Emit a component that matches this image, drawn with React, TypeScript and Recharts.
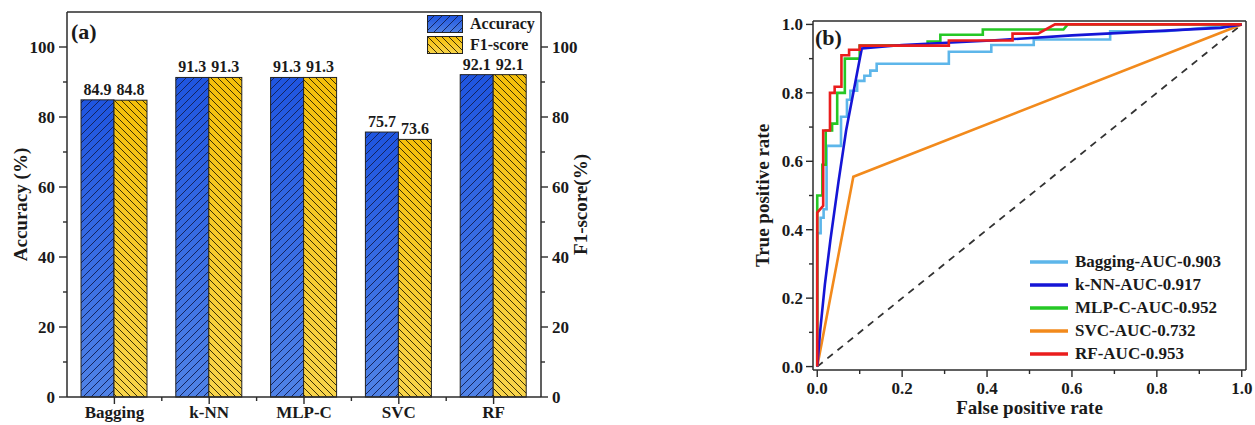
import { Bar, BarChart, LabelList, Legend, Line, LineChart, ReferenceLine, XAxis, YAxis } from 'recharts';

const FONT = '"Liberation Serif", "Times New Roman", serif';
const INK = '#1a1a1a';
const AXIS = '#2b2b2b';

// panel (a) data
const models = ['Bagging', 'k-NN', 'MLP-C', 'SVC', 'RF'];
const accuracy = [84.9, 91.3, 91.3, 75.7, 92.1];
const f1Score = [84.8, 91.3, 91.3, 73.6, 92.1];
const percentTicks = [0, 10, 20, 30, 40, 50, 60, 70, 80, 90, 100];

// panel (b) data, [false positive rate, true positive rate]
const baggingRoc = [
  [0, 0], [0, 0.39], [0.008, 0.39], [0.008, 0.435], [0.015, 0.435], [0.015, 0.46], [0.022, 0.46],
  [0.022, 0.645], [0.056, 0.645], [0.056, 0.73], [0.07, 0.73], [0.07, 0.78], [0.078, 0.78],
  [0.078, 0.806], [0.094, 0.806], [0.094, 0.835], [0.111, 0.835], [0.111, 0.85], [0.125, 0.85],
  [0.125, 0.865], [0.14, 0.865], [0.14, 0.885], [0.31, 0.885], [0.31, 0.92], [0.41, 0.92],
  [0.41, 0.94], [0.51, 0.94], [0.51, 0.956], [0.69, 0.956], [0.69, 0.98], [0.82, 0.98], [1, 1],
];
const knnRoc = [
  [0, 0], [0.007, 0.106], [0.018, 0.24], [0.031, 0.37], [0.05, 0.54], [0.068, 0.69], [0.085, 0.8],
  [0.101, 0.905], [0.105, 0.93], [0.2, 0.94], [0.41, 0.953], [0.6, 0.968], [0.82, 0.982], [0.95, 0.99], [1, 1],
];
const mlpRoc = [
  [0, 0], [0, 0.5], [0.012, 0.5], [0.012, 0.59], [0.02, 0.59], [0.02, 0.69], [0.035, 0.69], [0.035, 0.71],
  [0.047, 0.71], [0.047, 0.8], [0.065, 0.8], [0.065, 0.9], [0.1, 0.9], [0.1, 0.938], [0.26, 0.94],
  [0.26, 0.95], [0.29, 0.95], [0.29, 0.97], [0.39, 0.97], [0.39, 0.985], [0.58, 0.985], [0.59, 1], [1, 1],
];
const svcRoc = [[0, 0], [0.085, 0.555], [1, 1]];
const rfRoc = [
  [0, 0], [0, 0.45], [0.014, 0.47], [0.014, 0.69], [0.03, 0.69], [0.03, 0.8], [0.041, 0.8], [0.041, 0.818],
  [0.057, 0.818], [0.057, 0.91], [0.075, 0.91], [0.075, 0.926], [0.1, 0.926], [0.1, 0.938], [0.31, 0.938],
  [0.31, 0.953], [0.46, 0.953], [0.46, 0.973], [0.52, 0.973], [0.56, 1], [1, 1],
];
const chanceLine = [[0, 0], [1, 1]];
const rateTicks = [0, 0.1, 0.2, 0.3, 0.4, 0.5, 0.6, 0.7, 0.8, 0.9, 1.0];

const rocSeries = [
  { key: 'bagging', name: 'Bagging-AUC-0.903', color: '#5db6ea', points: baggingRoc },
  { key: 'knn', name: 'k-NN-AUC-0.917', color: '#1515d6', points: knnRoc },
  { key: 'mlp', name: 'MLP-C-AUC-0.952', color: '#25c825', points: mlpRoc },
  { key: 'svc', name: 'SVC-AUC-0.732', color: '#f28a1c', points: svcRoc },
  { key: 'rf', name: 'RF-AUC-0.953', color: '#ea1d1d', points: rfRoc },
];
const drawOrder = ['svc', 'bagging', 'mlp', 'knn', 'rf'];

const barData = models.map((model, i) => ({ model, accuracy: accuracy[i], f1: f1Score[i] }));
const toXY = (pts: number[][]) => pts.map(([x, y]) => ({ x, y }));

const barLegend = [
  { label: 'Accuracy', grad: 'gradBlue', hatch: 'hatchBlue' },
  { label: 'F1-score', grad: 'gradYellow', hatch: 'hatchYellow' },
];

// layout of panel (a)
const A_W = 620;
const A_H = 425;
const A_LEFT = 67;
const A_RIGHT = 79;
const A_BAND = (A_W - A_LEFT - A_RIGHT) / models.length;

function HatchedBar(props: any) {
  const { x, y, width, height, grad, hatch } = props;
  if (!height || height <= 0) return null;
  return (
    <g>
      <rect x={x} y={y} width={width} height={height} fill={`url(#${grad})`} />
      <rect x={x} y={y} width={width} height={height} fill={`url(#${hatch})`} stroke="#222" strokeWidth={1} />
    </g>
  );
}

function ValueLabel(props: any) {
  const { x, y, width, value } = props;
  return (
    <text x={Number(x) + Number(width) / 2} y={Number(y) - 5} textAnchor="middle" fontSize={16} fontWeight="bold" fontFamily={FONT} fill={INK}>
      {Number(value).toFixed(1)}
    </text>
  );
}

function PercentTickLeft(props: any) {
  const { x, y, payload } = props;
  const major = payload.value % 20 === 0;
  return (
    <g>
      <line x1={x} x2={x - (major ? 8 : 4)} y1={y} y2={y} stroke={AXIS} strokeWidth={1.4} />
      {major && (
        <text x={x - 12} y={y + 6} textAnchor="end" fontSize={17} fontWeight="bold" fontFamily={FONT} fill={INK}>
          {payload.value}
        </text>
      )}
    </g>
  );
}

function PercentTickRight(props: any) {
  const { x, y, payload } = props;
  const major = payload.value % 20 === 0;
  return (
    <g>
      <line x1={x} x2={x + (major ? 7 : 4)} y1={y} y2={y} stroke={AXIS} strokeWidth={1.4} />
      {major && (
        <text x={x + 11} y={y + 6} textAnchor="start" fontSize={17} fontWeight="bold" fontFamily={FONT} fill={INK}>
          {payload.value}
        </text>
      )}
    </g>
  );
}

function ModelTick(props: any) {
  const { x, y, payload, index } = props;
  return (
    <g>
      <line x1={x} x2={x} y1={y} y2={y + 7} stroke={AXIS} strokeWidth={1.4} />
      {index > 0 && <line x1={x - A_BAND / 2} x2={x - A_BAND / 2} y1={y} y2={y + 4} stroke={AXIS} strokeWidth={1.4} />}
      <text x={x} y={y + 21} textAnchor="middle" fontSize={17} fontWeight="bold" fontFamily={FONT} fill={INK}>
        {payload.value}
      </text>
    </g>
  );
}

function isMajorRate(v: number) {
  return Math.round(v * 10) % 2 === 0;
}

function RateTickLeft(props: any) {
  const { x, y, payload } = props;
  const major = isMajorRate(payload.value);
  return (
    <g>
      <line x1={x} x2={x - (major ? 7 : 4)} y1={y} y2={y} stroke={AXIS} strokeWidth={1.4} />
      {major && (
        <text x={x - 10} y={y + 6} textAnchor="end" fontSize={17} fontWeight="bold" fontFamily={FONT} fill={INK}>
          {payload.value.toFixed(1)}
        </text>
      )}
    </g>
  );
}

function RateTickBottom(props: any) {
  const { x, y, payload } = props;
  const major = isMajorRate(payload.value);
  return (
    <g>
      <line x1={x} x2={x} y1={y} y2={y + (major ? 7 : 4)} stroke={AXIS} strokeWidth={1.4} />
      {major && (
        <text x={x} y={y + 24} textAnchor="middle" fontSize={17} fontWeight="bold" fontFamily={FONT} fill={INK}>
          {payload.value.toFixed(1)}
        </text>
      )}
    </g>
  );
}

function BarLegend() {
  return (
    <div style={{ fontFamily: FONT, fontWeight: 'bold', fontSize: 16, color: INK }}>
      {barLegend.map((item) => (
        <div key={item.label} style={{ display: 'flex', alignItems: 'center', height: 21 }}>
          <svg width={36} height={18} style={{ display: 'block' }}>
            <rect x={0.5} y={0.5} width={35} height={17} fill={`url(#${item.grad})`} />
            <rect x={0.5} y={0.5} width={35} height={17} fill={`url(#${item.hatch})`} stroke="#222" strokeWidth={1} />
          </svg>
          <span style={{ marginLeft: 7 }}>{item.label}</span>
        </div>
      ))}
    </div>
  );
}

function RocLegend() {
  return (
    <div style={{ fontFamily: FONT, fontWeight: 'bold', fontSize: 17, color: INK }}>
      {rocSeries.map((s) => (
        <div key={s.key} style={{ display: 'flex', alignItems: 'center', height: 23 }}>
          <svg width={40} height={10} style={{ display: 'block' }}>
            <line x1={1} x2={39} y1={5} y2={5} stroke={s.color} strokeWidth={3.5} />
          </svg>
          <span style={{ marginLeft: 6 }}>{s.name}</span>
        </div>
      ))}
    </div>
  );
}

const titleStyle = { fontFamily: FONT, fontWeight: 'bold' as const, fontSize: 19, fill: INK, textAnchor: 'middle' as const };

export default function App() {
  return (
    <div style={{ position: 'absolute', left: 0, top: 0, width: 1255, height: 425, background: '#fff', fontFamily: FONT }}>
      <div style={{ position: 'absolute', left: 0, top: 0 }}>
        <BarChart width={A_W} height={A_H} data={barData} margin={{ top: 12, right: 0, left: 0, bottom: 0 }} barGap={0}>
          <defs>
            <linearGradient id="gradBlue" x1="0" y1="0" x2="0" y2="1">
              <stop offset="0%" stopColor="#1f55e0" />
              <stop offset="100%" stopColor="#4f82e6" />
            </linearGradient>
            <linearGradient id="gradYellow" x1="0" y1="0" x2="0" y2="1">
              <stop offset="0%" stopColor="#f4bf0a" />
              <stop offset="100%" stopColor="#f8d44a" />
            </linearGradient>
            <pattern id="hatchBlue" patternUnits="userSpaceOnUse" width={8} height={8}>
              <path d="M-1,1 l2,-2 M0,8 l8,-8 M7,9 l2,-2" stroke="#14245e" strokeWidth={1} />
            </pattern>
            <pattern id="hatchYellow" patternUnits="userSpaceOnUse" width={7} height={7}>
              <path d="M-1,6 l2,2 M0,0 l7,7 M6,-1 l2,2" stroke="#3d3005" strokeWidth={1} />
            </pattern>
          </defs>
          <XAxis
            dataKey="model"
            height={A_H - 397}
            tickLine={false}
            tickSize={0}
            tickMargin={0}
            axisLine={{ stroke: AXIS, strokeWidth: 1.5 }}
            tick={<ModelTick />}
            interval={0}
          />
          <YAxis
            yAxisId="left"
            domain={[0, 110]}
            ticks={percentTicks}
            width={A_LEFT}
            tickLine={false}
            tickSize={0}
            tickMargin={0}
            axisLine={{ stroke: AXIS, strokeWidth: 1.5 }}
            tick={<PercentTickLeft />}
            interval={0}
            label={{ value: 'Accuracy (%)', angle: -90, position: 'insideLeft', offset: 20, style: titleStyle }}
          />
          <YAxis
            yAxisId="right"
            orientation="right"
            domain={[0, 110]}
            ticks={percentTicks}
            width={A_RIGHT}
            tickLine={false}
            tickSize={0}
            tickMargin={0}
            axisLine={{ stroke: AXIS, strokeWidth: 1.5 }}
            tick={<PercentTickRight />}
            interval={0}
            label={{ value: 'F1-score(%)', angle: -90, position: 'insideRight', offset: 40, style: titleStyle }}
          />
          <ReferenceLine yAxisId="left" y={110} stroke={AXIS} strokeWidth={1.5} />
          <Bar dataKey="accuracy" yAxisId="left" barSize={33} isAnimationActive={false} shape={<HatchedBar grad="gradBlue" hatch="hatchBlue" />}>
            <LabelList dataKey="accuracy" content={<ValueLabel />} />
          </Bar>
          <Bar dataKey="f1" yAxisId="right" barSize={33} isAnimationActive={false} shape={<HatchedBar grad="gradYellow" hatch="hatchYellow" />}>
            <LabelList dataKey="f1" content={<ValueLabel />} />
          </Bar>
          <Legend
            layout="vertical"
            align="center"
            verticalAlign="middle"
            content={<BarLegend />}
            wrapperStyle={{ left: 427, top: 13, width: 'auto', height: 'auto' }}
          />
        </BarChart>
      </div>

      <div style={{ position: 'absolute', left: 740, top: 0 }}>
        <LineChart width={515} height={425} margin={{ top: 21, right: 9, left: 0, bottom: 0 }}>
          <XAxis
            dataKey="x"
            type="number"
            domain={[-0.01, 1.01]}
            ticks={rateTicks}
            height={55}
            tickLine={false}
            tickSize={0}
            tickMargin={0}
            axisLine={{ stroke: AXIS, strokeWidth: 1.5 }}
            tick={<RateTickBottom />}
            interval={0}
            allowDataOverflow
            label={{ value: 'False positive rate', position: 'insideBottom', offset: 11, style: titleStyle }}
          />
          <YAxis
            dataKey="y"
            type="number"
            domain={[-0.01, 1.01]}
            ticks={rateTicks}
            width={73}
            tickLine={false}
            tickSize={0}
            tickMargin={0}
            axisLine={{ stroke: AXIS, strokeWidth: 1.5 }}
            tick={<RateTickLeft />}
            interval={0}
            allowDataOverflow
            label={{ value: 'True positive rate', angle: -90, position: 'insideLeft', offset: 22, style: titleStyle }}
          />
          <ReferenceLine y={1.01} stroke={AXIS} strokeWidth={1.5} />
          <ReferenceLine x={1.01} stroke={AXIS} strokeWidth={1.5} />
          <Line
            data={toXY(chanceLine)}
            dataKey="y"
            type="linear"
            stroke="#333"
            strokeWidth={1.8}
            strokeDasharray="7 6"
            dot={false}
            isAnimationActive={false}
            legendType="none"
          />
          {drawOrder.map((key) => {
            const s = rocSeries.find((r) => r.key === key)!;
            return (
              <Line
                key={s.key}
                data={toXY(s.points)}
                dataKey="y"
                name={s.name}
                type="linear"
                stroke={s.color}
                strokeWidth={2.6}
                dot={false}
                isAnimationActive={false}
              />
            );
          })}
          <Legend
            layout="vertical"
            align="center"
            verticalAlign="middle"
            content={<RocLegend />}
            wrapperStyle={{ left: 289, top: 250, width: 'auto', height: 'auto' }}
          />
        </LineChart>
      </div>

      <svg width={1255} height={425} style={{ position: 'absolute', left: 0, top: 0, pointerEvents: 'none' }}>
        <text x={71} y={39} fontSize={22} fontWeight="bold" fontFamily={FONT} fill={INK}>(a)</text>
        <text x={815} y={45} fontSize={22} fontWeight="bold" fontFamily={FONT} fill={INK}>(b)</text>
      </svg>
    </div>
  );
}
